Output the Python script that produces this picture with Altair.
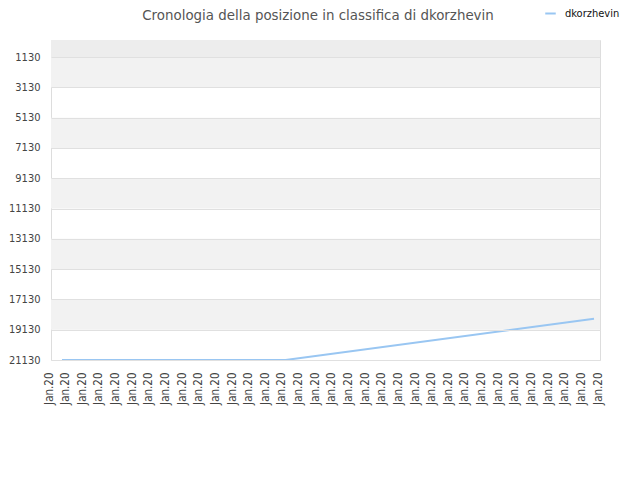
import altair as alt
import pandas as pd

title_text = "Cronologia della posizione in classifica di dkorzhevin"
series_name = "dkorzhevin"
x_labels = ["Jan.20"] * 34
x_index = list(range(34))
y_ticks = [1130, 3130, 5130, 7130, 9130, 11130, 13130, 15130, 17130, 19130, 21130]

# line points (x in label-index units, y = rank)
line_x = [0.66, 14.1, 32.64]
line_rank = [21130, 21130, 18400]

# alternating background bands
band_lo = [0, 1130, 5130, 9130, 13130, 17130]
band_hi = [1130, 3130, 7130, 11130, 15130, 19130]
band_col = ["#ededed", "#f2f2f2", "#f2f2f2", "#f2f2f2", "#f2f2f2", "#f2f2f2"]

line_df = pd.DataFrame({"x": line_x, "rank": line_rank, "name": [series_name] * len(line_x)})
band_df = pd.DataFrame({"lo": band_lo, "hi": band_hi, "c": band_col})
title_df = pd.DataFrame({"t": [title_text]})

FONT = "DejaVu Sans"
AFONT = "DejaVu Sans Condensed"
xscale = alt.Scale(domain=[0, 33], nice=False, zero=False)
yscale = alt.Scale(domain=[21130, 0], nice=False, zero=False)

yaxis = alt.Axis(values=y_ticks, ticks=False, domain=False, grid=True, format="d",
                 gridColor="#e0e0e0", gridWidth=1, labelPadding=11,
                 labelFont=AFONT, labelFontSize=11, labelColor="#444444",
                 title=None, labelOverlap=False, labelFlush=False, zindex=1)

label_map = "[" + ",".join("'" + s + "'" for s in x_labels) + "]"
xaxis = alt.Axis(values=x_index, labelExpr=label_map + "[datum.value]",
                 labelAngle=270, labelAlign="right", labelBaseline="middle",
                 labelPadding=12, ticks=False, grid=False, domain=False,
                 labelFont=AFONT, labelFontSize=11.5, labelColor="#444444",
                 title=None, labelOverlap=False, labelBound=False, labelFlush=False,
                 labelOffset=-2)

bands = alt.Chart(band_df).mark_rect().encode(
    x=alt.value(0),
    x2=alt.value(549),
    y=alt.Y("lo:Q", scale=yscale, axis=yaxis),
    y2="hi:Q",
    fill=alt.Fill("c:N", scale=None, legend=None),
)

line = alt.Chart(line_df).mark_line(strokeWidth=2).encode(
    x=alt.X("x:Q", scale=xscale, axis=xaxis),
    y=alt.Y("rank:Q", scale=yscale, axis=yaxis),
    color=alt.Color("name:N", scale=alt.Scale(domain=[series_name], range=["#99c6f2"]),
                    legend=alt.Legend(title=None, orient="none", legendX=493, legendY=-33,
                                      symbolType="stroke", symbolSize=110, symbolStrokeWidth=2,
                                      labelFont=AFONT, labelFontSize=11, labelColor="#111111",
                                      labelOffset=8, padding=0)),
)

title = alt.Chart(title_df).mark_text(
    font=FONT, fontSize=13.4, color="#555555", align="center", baseline="alphabetic"
).encode(x=alt.value(267), y=alt.value(-20), text="t:N")

chart = alt.layer(bands, line, title).resolve_scale(fill="independent", color="independent").properties(
    width=549, height=320,
    autosize=alt.AutoSizeParams(type="none"),
    padding={"left": 43, "top": 32, "right": 32, "bottom": 104},
).configure_view(stroke="#dddddd", strokeWidth=1).configure(background="white")

chart.save("out.html", embed_options={"renderer": "svg", "actions": False})
